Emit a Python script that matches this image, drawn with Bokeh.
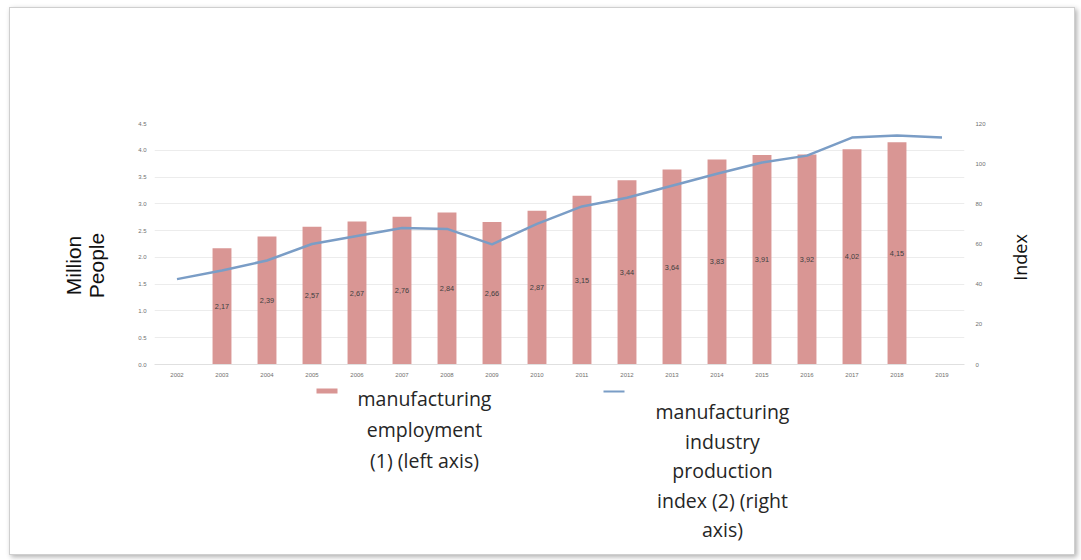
from bokeh.plotting import figure
from bokeh.layouts import column, row
from bokeh.models import (ColumnDataSource, LinearAxis, Range1d, FactorRange,
                          SingleIntervalTicker, CustomJSTickFormatter)
from bokeh.core.properties import value
from bokeh.embed import file_html
from bokeh.resources import INLINE
import math

years = [str(y) for y in range(2002, 2020)]
employment = [None, 2.17, 2.39, 2.57, 2.67, 2.76, 2.84, 2.66, 2.87, 3.15,
              3.44, 3.64, 3.83, 3.91, 3.92, 4.02, 4.15, None]
index_values = [42.5, 46.8, 51.8, 60.0, 64.0, 68.0, 67.5, 59.8, 70.0, 78.7,
                83.0, 89.0, 95.0, 100.6, 104.0, 113.0, 114.0, 113.0]
legend_labels = ["manufacturing\nemployment\n(1) (left axis)",
                 "manufacturing\nindustry\nproduction\nindex (2) (right\naxis)"]
left_title = ["Million", "People"]
right_title = "Index"

BAR_COLOR = "#d99694"
LINE_COLOR = "#7a9dc6"
FONT = "Open Sans"

OX, OY = 11, 8                         # content origin on the page
TOTAL_H = 546
FL, FR, FT, FB = 155, 965, 123, 364    # chart frame on the page
LX1 = 110                              # right edge of left title strip
RX0 = 1000                             # left edge of right title strip
RX1 = 1075
LW = LX1 - OX
PW = RX0 - LX1
RW = RX1 - RX0
H1 = 385 - OY
H2 = TOTAL_H - H1

bar_years = [y for y, v in zip(years, employment) if v is not None]
bar_vals = [v for v in employment if v is not None]
bar_src = ColumnDataSource(dict(
    x=bar_years, top=bar_vals, mid=[v / 2 for v in bar_vals],
    lab=[f"{v:.2f}".replace(".", ",") for v in bar_vals]))
line_src = ColumnDataSource(dict(x=years, y=index_values))

p = figure(width=PW, height=H1, x_range=FactorRange(*years),
           y_range=Range1d(0, 4.5), output_backend="svg",
           toolbar_location=None,
           min_border_left=FL - LX1, min_border_right=RX0 - FR,
           min_border_top=FT - OY, min_border_bottom=H1 - (FB - OY))
p.outline_line_color = None
p.border_fill_color = "white"
p.extra_y_ranges = {"idx": Range1d(0, 120)}

p.vbar(x="x", top="top", width=0.42, source=bar_src, color=BAR_COLOR,
       line_color=None)
p.line(x="x", y="y", source=line_src, y_range_name="idx",
       line_color=LINE_COLOR, line_width=2.5)
p.text(x="x", y="mid", text="lab", source=bar_src, text_align="center",
       text_baseline="middle", text_font_size="5.5pt", text_color="#404040")

p.yaxis.ticker = SingleIntervalTicker(interval=0.5)
p.yaxis.formatter = CustomJSTickFormatter(code="return tick.toFixed(1);")
ra = LinearAxis(y_range_name="idx", ticker=SingleIntervalTicker(interval=20))
p.add_layout(ra, "right")

la = p.yaxis[0]
for ax in [la, ra]:
    ax.axis_line_color = None
    ax.major_tick_line_color = None
    ax.minor_tick_line_color = None
    ax.major_label_text_font_size = "6px"
    ax.major_label_text_color = "#707070"
la.major_label_standoff = 2
ra.major_label_standoff = 5

p.xaxis.axis_line_color = "#e0e0e0"
p.xaxis.major_tick_line_color = None
p.xaxis.major_label_text_font_size = "6px"
p.xaxis.major_label_text_color = "#707070"
p.xaxis.major_label_standoff = 2

p.xgrid.grid_line_color = None
p.ygrid.grid_line_color = "#ececec"


def strip(width, x0, x1):
    f = figure(width=width, height=TOTAL_H, x_range=Range1d(x0, x1),
               y_range=Range1d(-FB, -FT), output_backend="svg",
               toolbar_location=None, min_border_left=0, min_border_right=0,
               min_border_top=FT - OY, min_border_bottom=OY + TOTAL_H - FB)
    f.xaxis.visible = False
    f.yaxis.visible = False
    f.grid.visible = False
    f.outline_line_color = None
    f.border_fill_color = "white"
    f.background_fill_color = "white"
    return f


lf = strip(LW, OX, LX1)
lf.text(x=[74, 97], y=[-265, -265], text=left_title, angle=math.pi / 2,
        text_align="center", text_baseline="middle",
        text_font=value("Liberation Sans"), text_font_size="21px",
        text_color="#111111")
rf = strip(RW, RX0, RX1)
rf.text(x=[1020], y=[-257], text=[right_title], angle=math.pi / 2,
        text_align="center", text_baseline="middle", text_font=value(FONT),
        text_font_size="18px", text_color="#111111")

# legend panel: its frame is aligned with the chart frame by the column layout
lg = figure(width=PW, height=H2, x_range=Range1d(FL, FR),
            y_range=Range1d(OY + H1 + H2, OY + H1), output_backend="svg",
            toolbar_location=None, min_border=0)
lg.xaxis.visible = False
lg.yaxis.visible = False
lg.grid.visible = False
lg.outline_line_color = None
lg.border_fill_color = "white"

lg.quad(left=[317], right=[338], top=[388], bottom=[393], color=BAR_COLOR,
        line_color=None)
lg.segment(x0=[604], x1=[625], y0=[391], y1=[391], line_color=LINE_COLOR,
           line_width=2)

left_lines = legend_labels[0].split("\n")
right_lines = legend_labels[1].split("\n")
lg.text(x=[425] * len(left_lines), y=[398, 429, 460], text=left_lines,
        text_align="center", text_baseline="middle", text_font=value(FONT),
        text_font_size="19.5px", text_color="#262626")
lg.text(x=[723] * len(right_lines), y=[411, 441, 470, 500, 529], text=right_lines,
        text_align="center", text_baseline="middle", text_font=value(FONT),
        text_font_size="19.5px", text_color="#262626")

layout = row(lf, column(p, lg, spacing=0), rf, spacing=0)
layout.styles = {"border": "1px solid #cfcfcf", "box-shadow": "2px 2px 5px #b0b0b0",
                 "margin-left": "9px", "margin-top": "7px", "background": "white"}

open("out.html", "w").write(file_html(layout, INLINE))
